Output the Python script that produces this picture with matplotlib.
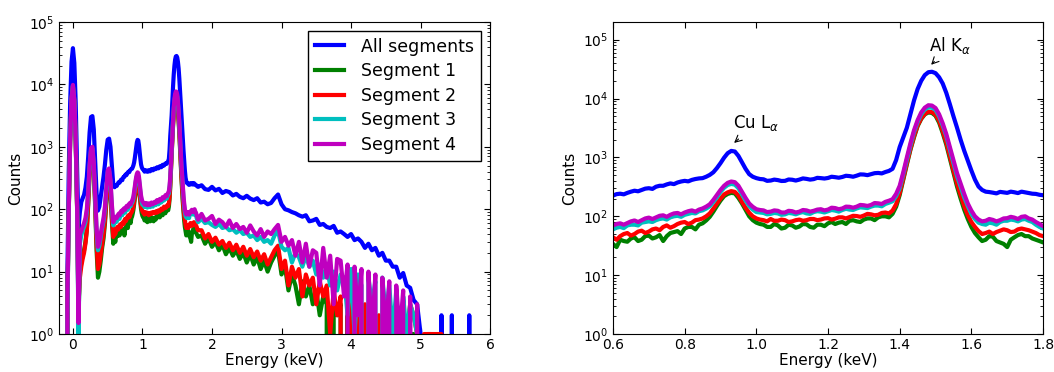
import numpy as np
import matplotlib
matplotlib.use('Agg')
import matplotlib.pyplot as plt

# energy bins (keV): fine around the Cu/Al region, coarser in the tail
energy = np.concatenate([np.arange(-0.10, 0.59, 0.02),
                         np.arange(0.60, 1.805, 0.01),
                         np.arange(1.85, 6.01, 0.05)]).round(2)

all_segments = [
    # -0.10 .. 0.58 (step 0.02)
    0, 8, 400, 5000, 23000, 38000, 22000, 5000, 450, 50,
    90, 130, 150, 170, 220, 330, 700, 1700, 3000, 3100,
    1900, 600, 180, 95, 110, 160, 230, 330, 520, 900,
    1300, 1350, 1000, 500, 250,
    # 0.60 .. 1.80 (step 0.01)
    225, 238, 242, 236, 250, 262, 272, 266, 280, 295,
    300, 292, 318, 330, 330, 348, 362, 352, 375, 390,
    400, 392, 415, 430, 440, 445, 470, 505, 560, 660,
    800, 990, 1180, 1290, 1260, 1060, 820, 640, 520, 470,
    445, 430, 425, 400, 405, 420, 412, 398, 400, 422,
    418, 405, 420, 440, 432, 420, 428, 450, 445, 438,
    448, 470, 462, 452, 466, 488, 482, 470, 490, 515,
    512, 500, 520, 540, 545, 535, 565, 590, 640, 900,
    1500, 2200, 3200, 5500, 9300, 14500, 20000, 25000, 28000, 28500,
    27000, 23000, 18000, 12500, 8000, 5000, 3200, 2000, 1300, 880,
    600, 420, 320, 280, 262, 258, 252, 245, 260, 255,
    250, 262, 256, 248, 262, 255, 248, 242, 240, 232,
    228,
    # 1.85 .. 6.00 (step 0.05)
    242, 210, 204, 228, 200, 212, 182, 196, 188, 166,
    176, 158, 150, 164, 148, 140, 150, 128, 132, 120,
    126, 150, 172, 120, 100, 96, 90, 86, 80, 76,
    80, 64, 66, 70, 56, 58, 52, 50, 54, 42,
    44, 40, 36, 40, 32, 34, 30, 24, 28, 22,
    24, 18, 20, 15, 15, 12, 12, 8, 9.5, 6,
    5.5, 3.5, 3, 1, 0, 1, 1, 0, 0, 2,
    0, 0, 2, 0, 0, 0, 0, 2, 0, 0,
    0, 0, 0, 0,
]

segment1 = [
    0, 2, 90, 1200, 5500, 9000, 5200, 1200, 100, 2,
    10, 14, 18, 22, 30, 48, 120, 380, 780, 820,
    430, 110, 22, 8, 10, 15, 24, 34, 58, 125,
    270, 290, 190, 65, 28,
    34, 30, 40, 38, 37, 42, 44, 38, 40, 46,
    47, 42, 44, 48, 38, 46, 52, 54, 56, 50,
    62, 66, 66, 60, 72, 76, 85, 98, 120, 150,
    185, 220, 240, 250, 245, 205, 165, 128, 100, 86,
    78, 74, 72, 66, 66, 74, 70, 62, 64, 72,
    70, 64, 67, 74, 73, 66, 64, 72, 72, 68,
    76, 80, 74, 78, 80, 74, 84, 86, 82, 80,
    88, 92, 92, 86, 96, 100, 100, 96, 110, 145,
    230, 420, 760, 1350, 2200, 3400, 4500, 5400, 5800, 5700,
    5100, 3900, 2600, 1650, 950, 540, 320, 200, 130, 90,
    66, 52, 44, 38, 40, 46, 45, 38, 36, 34,
    30, 40, 44, 48, 50, 46, 46, 42, 40, 38,
    36,
    38, 28, 34, 25, 30, 22, 27, 19, 24, 18,
    22, 16, 20, 14, 19, 13, 17, 11, 15, 10,
    14, 18, 22, 9, 12, 5, 9, 6, 3, 7,
    4, 6, 3, 5, 2, 4, 3, 0, 3, 2,
    3, 0, 2, 0, 2, 1, 2, 0, 1, 2,
    0, 1, 1, 0, 1, 1, 0, 1, 1, 0,
    1, 1, 0, 0, 0, 0, 0, 0, 0, 0,
    0, 0, 0, 0, 0, 0, 0, 0, 0, 0,
    0, 0, 0, 0,
]

segment2 = [
    0, 3, 95, 1250, 5600, 9200, 5300, 1250, 105, 3,
    8, 12, 16, 20, 28, 45, 130, 400, 820, 860,
    460, 125, 28, 11, 13, 19, 28, 40, 66, 140,
    290, 300, 200, 75, 36,
    44, 40, 46, 50, 52, 47, 50, 55, 57, 52,
    55, 60, 62, 58, 66, 70, 64, 68, 74, 78,
    80, 74, 78, 86, 88, 92, 100, 112, 135, 165,
    200, 235, 255, 268, 260, 225, 175, 140, 115, 100,
    92, 88, 86, 82, 90, 84, 84, 88, 86, 80,
    82, 86, 88, 84, 86, 90, 90, 86, 88, 92,
    93, 88, 91, 96, 96, 92, 97, 102, 101, 98,
    103, 110, 108, 104, 106, 114, 116, 112, 125, 160,
    250, 440, 800, 1400, 2300, 3500, 4600, 5500, 6000, 5900,
    5300, 4200, 2800, 1800, 1050, 600, 360, 230, 150, 105,
    80, 66, 56, 50, 52, 55, 50, 54, 57, 60,
    58, 54, 55, 60, 62, 60, 58, 55, 52, 48,
    46,
    46, 34, 40, 30, 35, 27, 31, 24, 29, 22,
    27, 20, 25, 18, 23, 17, 21, 15, 19, 13,
    17, 22, 26, 11, 15, 6, 12, 8, 11, 4,
    9, 6, 8, 3, 7, 4, 6, 1, 5, 2,
    4, 0, 4, 2, 0, 3, 1, 3, 0, 2,
    1, 2, 0, 2, 1, 0, 1, 2, 0, 1,
    3, 2, 1, 0, 1, 1, 1, 1, 1, 1,
    0, 0, 0, 0, 0, 0, 0, 0, 0, 0,
    0, 0, 0, 0,
]

segment3 = [
    0, 2, 100, 1300, 5800, 9500, 5400, 1300, 110, 1,
    28, 38, 46, 52, 62, 90, 185, 490, 900, 940,
    510, 155, 44, 22, 26, 36, 50, 64, 98, 195,
    390, 410, 270, 105, 55,
    60, 64, 66, 63, 70, 72, 72, 70, 78, 80,
    82, 80, 86, 90, 92, 88, 96, 100, 102, 98,
    106, 110, 114, 112, 122, 126, 135, 148, 175, 210,
    260, 305, 340, 355, 345, 300, 235, 185, 150, 130,
    118, 116, 114, 108, 110, 114, 112, 106, 108, 114,
    112, 108, 114, 118, 112, 110, 118, 122, 120, 116,
    122, 128, 125, 120, 128, 134, 130, 128, 136, 142,
    140, 138, 146, 152, 152, 148, 162, 170, 180, 220,
    300, 520, 920, 1600, 2700, 4000, 5400, 6500, 7100, 7000,
    6400, 5000, 3500, 2300, 1350, 800, 480, 320, 210, 150,
    110, 90, 78, 74, 72, 78, 76, 72, 80, 84,
    84, 88, 86, 82, 88, 90, 84, 80, 72, 66,
    62,
    70, 60, 62, 56, 52, 58, 50, 52, 46, 48,
    42, 46, 40, 42, 36, 38, 32, 36, 30, 32,
    28, 38, 45, 25, 22, 24, 14, 20, 17, 12,
    18, 12, 15, 9, 13, 8, 12, 6, 10, 5,
    9, 8, 2, 11, 1, 9, 6, 0, 8, 3,
    7, 0, 8, 2, 6, 1, 5, 0, 4, 1,
    3, 2, 1, 0, 0, 0, 0, 0, 0, 0,
    0, 0, 0, 0, 0, 0, 0, 0, 0, 0,
    0, 0, 0, 0,
]

segment4 = [
    0, 3, 105, 1350, 6000, 9800, 5600, 1350, 115, 1.5,
    40, 45, 52, 60, 72, 100, 200, 520, 950, 1000,
    550, 170, 50, 25, 30, 40, 55, 72, 110, 210,
    420, 450, 300, 120, 62,
    70, 74, 76, 72, 77, 82, 85, 80, 86, 92,
    95, 90, 96, 102, 104, 98, 106, 112, 114, 108,
    116, 122, 126, 120, 130, 136, 146, 160, 190, 230,
    280, 330, 370, 390, 380, 330, 260, 205, 165, 145,
    132, 128, 126, 118, 120, 126, 124, 116, 116, 124,
    122, 116, 120, 128, 126, 120, 124, 130, 132, 126,
    130, 140, 138, 132, 136, 146, 145, 140, 146, 156,
    154, 150, 156, 168, 166, 162, 176, 184, 195, 240,
    330, 560, 1000, 1750, 2900, 4300, 5800, 7000, 7700, 7600,
    6900, 5400, 3800, 2500, 1500, 900, 540, 360, 240, 165,
    125, 100, 88, 82, 84, 90, 87, 82, 86, 92,
    93, 98, 95, 90, 98, 100, 92, 88, 80, 74,
    68,
    84, 66, 70, 78, 58, 68, 62, 52, 66, 50,
    58, 48, 52, 42, 55, 44, 38, 48, 36, 44,
    40, 48, 56, 30, 36, 26, 32, 18, 30, 14,
    28, 12, 22, 20, 6, 24, 8, 18, 3, 16,
    15, 4, 13, 0, 12, 2, 11, 0, 10, 1,
    9, 0, 8, 1, 7, 0, 6, 1, 5, 0,
    4, 0, 3, 0, 0, 0, 0, 0, 0, 0,
    0, 0, 0, 0, 0, 0, 0, 0, 0, 0,
    0, 0, 0, 0,
]

labels = ['All segments', 'Segment 1', 'Segment 2', 'Segment 3', 'Segment 4']
colors = ['#0000ff', '#008000', '#ff0000', '#00bfbf', '#bf00bf']
series = [all_segments, segment1, segment2, segment3, segment4]

plt.rcParams['xtick.direction'] = 'in'
plt.rcParams['ytick.direction'] = 'in'
plt.rcParams['xtick.top'] = True
plt.rcParams['ytick.right'] = True

fig = plt.figure(figsize=(10.54, 3.72), dpi=100)
ax1 = fig.add_axes([0.056, 0.102, 0.409, 0.839])
ax2 = fig.add_axes([0.5816, 0.102, 0.408, 0.839])

for ax in (ax1, ax2):
    for y, c, lab in zip(series, colors, labels):
        ax.plot(energy, y, color=c, lw=3, label=lab)
    ax.set_yscale('log')
    ax.set_xlabel('Energy (keV)', fontsize=11, labelpad=1)
    ax.set_ylabel('Counts', fontsize=11)
    ax.tick_params(which='major', length=4, labelsize=10)
    ax.tick_params(axis='x', which='major', pad=2.5)
    ax.tick_params(which='minor', length=2)

ax1.set_xlim(-0.2, 6)
ax1.set_ylim(1, 1e5)
ax1.legend(loc='upper right', fontsize=12.5, fancybox=False, edgecolor='black',
           handlelength=1.7, handletextpad=1.0, labelspacing=0.38, framealpha=1)

ax2.set_xlim(0.6, 1.8)
ax2.set_ylim(1, 2e5)
ax2.set_xticks([0.6, 0.8, 1.0, 1.2, 1.4, 1.6, 1.8])
ax2.set_xticklabels(['0.6', '0.8', '1.0', '1.2', '1.4', '1.6', '1.8'])

arrow = dict(arrowstyle='->', color='black', lw=0.8, shrinkA=3, shrinkB=1)
ax2.annotate(r'Cu L$_\alpha$', xy=(0.935, 1700), xytext=(0.935, 3100),
             ha='left', va='baseline', fontsize=12, arrowprops=arrow)
ax2.annotate(r'Al K$_\alpha$', xy=(1.485, 36000), xytext=(1.482, 65000),
             ha='left', va='baseline', fontsize=12, arrowprops=arrow)

fig.savefig('out.png', dpi=100, facecolor='white')
